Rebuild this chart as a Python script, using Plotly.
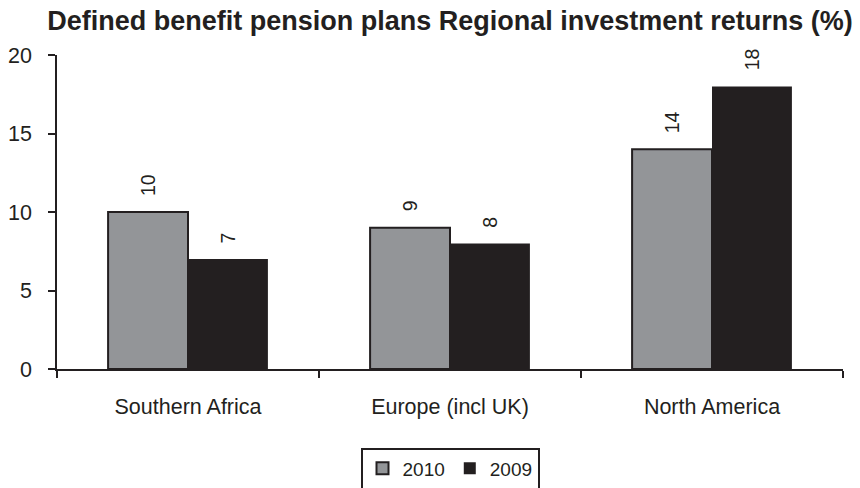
import plotly.graph_objects as go

# Regional investment returns of defined benefit pension plans (%)
regions = ["Southern Africa", "Europe (incl UK)", "North America"]
returns_2010 = [10, 9, 14]
returns_2009 = [7, 8, 18]
y_ticks = [0, 5, 10, 15, 20]

INK = "#231f20"
GREY = "#939598"
FONT = "Liberation Sans, Arial, sans-serif"
BARGAP = 0.39

fig = go.Figure()
fig.add_trace(go.Bar(
    name="2010", x=regions, y=returns_2010,
    marker=dict(color=GREY, line=dict(color=INK, width=2)),
))
fig.add_trace(go.Bar(
    name="2009", x=regions, y=returns_2009,
    marker=dict(color=INK, line=dict(color=INK, width=0)),
))

# Rotated value labels sitting above each bar
half = (1 - BARGAP) / 4
annotations = []
for series, shift in ((returns_2010, -half), (returns_2009, half)):
    for i, v in enumerate(series):
        annotations.append(dict(
            x=i + shift, y=v, xref="x", yref="y", text=str(v),
            textangle=-90, showarrow=False, xanchor="center", yanchor="bottom",
            yshift=14, font=dict(family=FONT, size=19.5, color=INK),
        ))

fig.update_layout(
    width=860, height=488,
    margin=dict(l=57, r=17, t=55, b=119, autoexpand=False),
    paper_bgcolor="white", plot_bgcolor="white",
    barmode="group", bargap=BARGAP, bargroupgap=0,
    font=dict(family=FONT, color=INK),
    title=dict(
        text="<b>Defined benefit pension plans Regional investment returns (%)</b>",
        x=0.5, xref="paper", xanchor="center", y=0.958, yanchor="middle",
        font=dict(family=FONT, size=27, color=INK),
    ),
    showlegend=True,
    # legend frame runs off the bottom edge of the page
    legend=dict(
        orientation="h", x=0.5, xanchor="center", y=-0.25, yanchor="top",
        bordercolor=INK, borderwidth=2, itemwidth=30,
        font=dict(family=FONT, size=19, color=INK),
        traceorder="normal",
    ),
    annotations=annotations,
)

fig.update_xaxes(
    type="category", tickson="boundaries", ticks="outside", ticklen=7,
    tickwidth=1.5, tickcolor=INK, showline=True, linecolor=INK, linewidth=1.5,
    showgrid=False, zeroline=False, ticklabelstandoff=17,
    tickfont=dict(family=FONT, size=21.5, color=INK),
)
fig.update_yaxes(
    range=[0, 20], tickvals=y_ticks, ticks="outside", ticklen=7,
    tickwidth=1.5, tickcolor=INK, showline=True, linecolor=INK, linewidth=1.5,
    showgrid=False, zeroline=False, ticklabelstandoff=12,
    tickfont=dict(family=FONT, size=21.5, color=INK),
)

fig.write_html("out.html")
